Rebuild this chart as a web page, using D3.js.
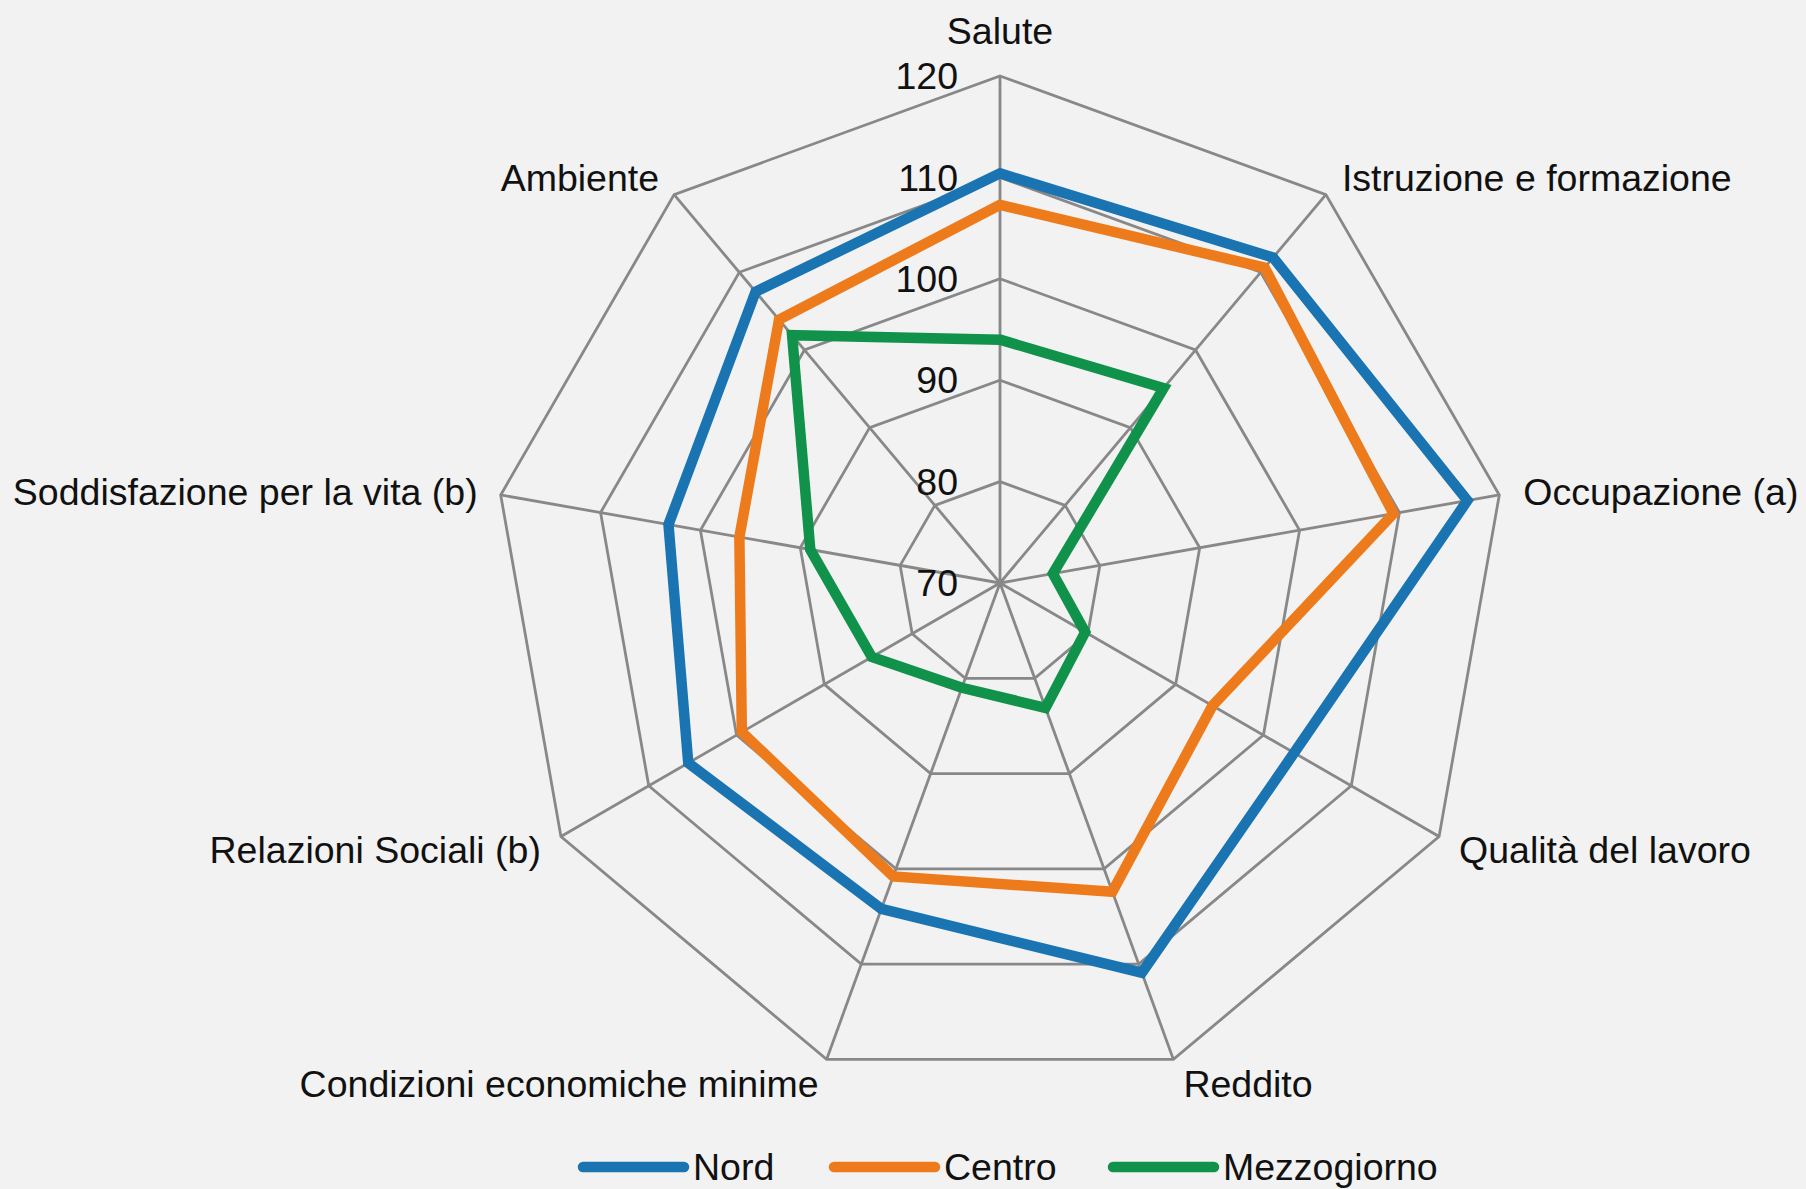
<!DOCTYPE html>
<html>
<head>
<meta charset="utf-8">
<script src="https://cdn.jsdelivr.net/npm/d3@7"></script>
<style>
  html, body { margin: 0; padding: 0; background: #f2f2f2; }
  svg { display: block; }
  text { font-family: "Liberation Sans", Arial, sans-serif; fill: #111; }
</style>
</head>
<body>
<div id="chart-container"></div>
<script>
// data
const axes = [
  "Salute",
  "Istruzione e formazione",
  "Occupazione (a)",
  "Qualità del lavoro",
  "Reddito",
  "Condizioni economiche minime",
  "Relazioni Sociali (b)",
  "Soddisfazione per la vita (b)",
  "Ambiente",
];
const nord = [110.4, 111.9, 116.8, 103.5, 110.9, 104.2, 105.5, 103.2, 107.5];
const centro = [107.3, 110.6, 109.4, 94.2, 102.4, 100.8, 99.4, 96.1, 103.9];
const mezzogiorno = [94.0, 95.1, 75.3, 79.7, 83.1, 81.0, 84.6, 89.0, 101.9];
const seriesNames = ["Nord", "Centro", "Mezzogiorno"];
const ticks = [70, 80, 90, 100, 110, 120];

const colors = ["#1a74b2", "#ee7b1b", "#10924a"];
const series = [nord, centro, mezzogiorno].map((values, i) => ({
  name: seriesNames[i],
  values: values,
  color: colors[i],
}));

// svg
const W = 1806;
const H = 1189;
const cx = 1000;
const cy = 583;
const R = 507;
const fontSize = "37.5px";

const svg = d3
  .select("#chart-container")
  .append("svg")
  .attr("width", W)
  .attr("height", H);

const r = d3.scaleLinear().domain([70, 120]).range([0, R]);
const angle = d3
  .scaleLinear()
  .domain([0, axes.length])
  .range([0, 2 * Math.PI]);

function point(i, v) {
  const a = angle(i);
  return [cx + Math.sin(a) * r(v), cy - Math.cos(a) * r(v)];
}

const g = svg.append("g");

// grid polygons
ticks
  .filter((t) => t > 70)
  .forEach((t) => {
    g.append("path")
      .attr("d", d3.line()(axes.map((_, i) => point(i, t))) + "Z")
      .attr("fill", "none")
      .attr("stroke", "#888")
      .attr("stroke-width", 2.8);
  });

// spokes
g.selectAll(".spoke")
  .data(axes)
  .enter()
  .append("line")
  .attr("class", "spoke")
  .attr("x1", cx)
  .attr("y1", cy)
  .attr("x2", (d, i) => point(i, 120)[0])
  .attr("y2", (d, i) => point(i, 120)[1])
  .attr("stroke", "#888")
  .attr("stroke-width", 2.8);

// tick labels
g.selectAll(".tick-label")
  .data(ticks)
  .enter()
  .append("text")
  .attr("class", "tick-label")
  .attr("x", cx - 42)
  .attr("y", (d) => cy - r(d))
  .attr("dy", "0.35em")
  .attr("text-anchor", "end")
  .style("font-size", fontSize)
  .text((d) => d);

// series
const line = d3.line().curve(d3.curveLinearClosed);
g.selectAll(".series")
  .data(series)
  .enter()
  .append("path")
  .attr("class", "series")
  .attr("d", (s) => line(s.values.map((v, i) => point(i, v))))
  .attr("fill", "none")
  .attr("stroke", (s) => s.color)
  .attr("stroke-width", 10.5)
  .attr("stroke-linejoin", "miter");

// axis labels
const labelOffsets = [
  { dx: 0, dy: -45, anchor: "middle" },
  { dx: 16, dy: -17, anchor: "start" },
  { dx: 24, dy: -3, anchor: "start" },
  { dx: 20, dy: 13, anchor: "start" },
  { dx: 10, dy: 24, anchor: "start" },
  { dx: -8, dy: 24, anchor: "end" },
  { dx: -20, dy: 13, anchor: "end" },
  { dx: -23, dy: -3, anchor: "end" },
  { dx: -15, dy: -17, anchor: "end" },
];
g.selectAll(".axis-label")
  .data(axes)
  .enter()
  .append("text")
  .attr("class", "axis-label")
  .attr("x", (d, i) => point(i, 120)[0] + labelOffsets[i].dx)
  .attr("y", (d, i) => point(i, 120)[1] + labelOffsets[i].dy)
  .attr("dy", "0.35em")
  .attr("text-anchor", (d, i) => labelOffsets[i].anchor)
  .style("font-size", fontSize)
  .text((d) => d);

// legend
const legendX = [578, 829, 1108];
const legendY = 1167;
const legend = svg
  .append("g")
  .attr("id", "legend")
  .selectAll(".legend-item")
  .data(series)
  .enter()
  .append("g")
  .attr("class", "legend-item");

legend
  .append("line")
  .attr("x1", (d, i) => legendX[i] + 5)
  .attr("x2", (d, i) => legendX[i] + 106)
  .attr("y1", legendY)
  .attr("y2", legendY)
  .attr("stroke", (d) => d.color)
  .attr("stroke-width", 10.5)
  .attr("stroke-linecap", "round");

legend
  .append("text")
  .attr("x", (d, i) => legendX[i] + 115)
  .attr("y", legendY)
  .attr("dy", "0.35em")
  .style("font-size", fontSize)
  .text((d) => d.name);
</script>
</body>
</html>
